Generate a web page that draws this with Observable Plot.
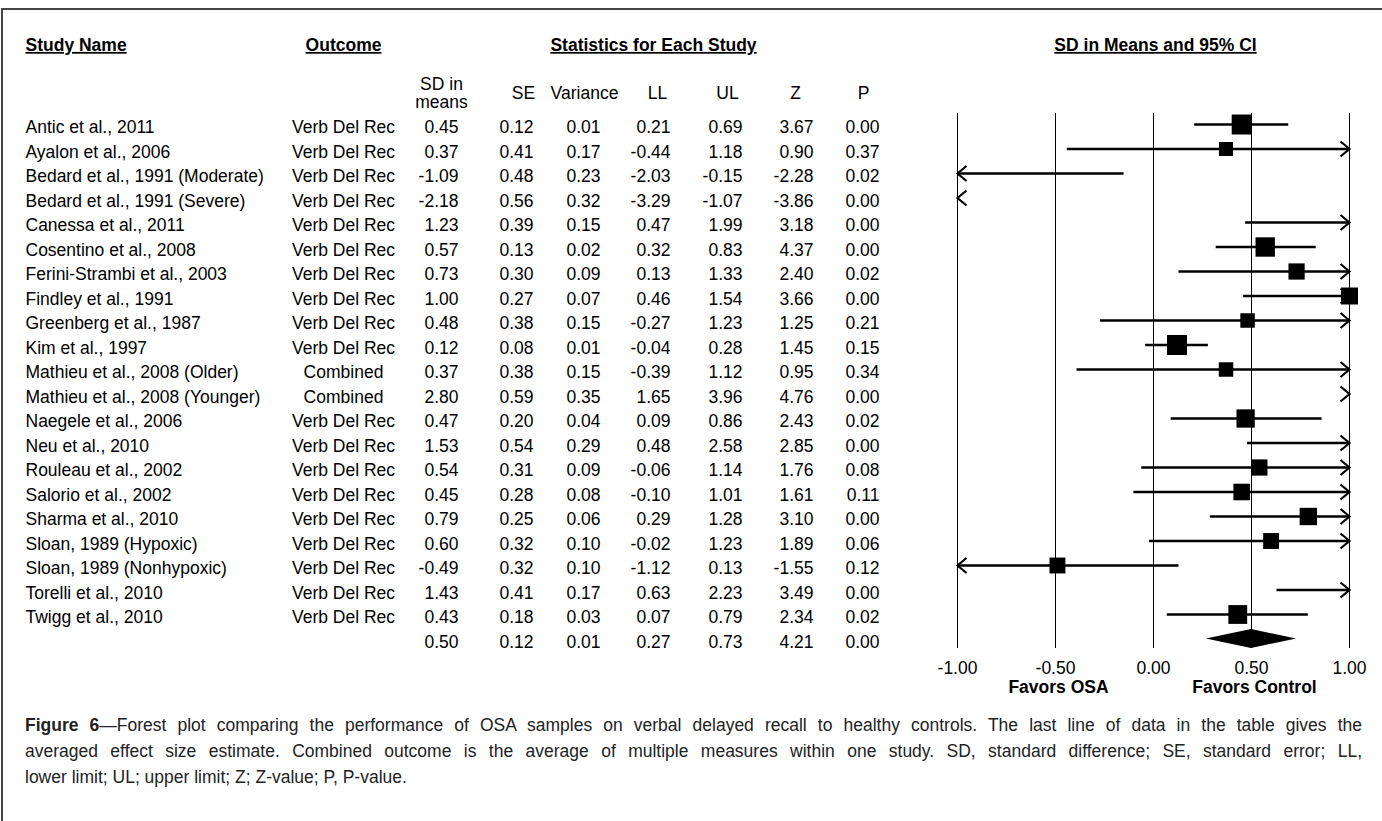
<!DOCTYPE html>
<html>
<head>
<meta charset="utf-8">
<script src="https://cdn.jsdelivr.net/npm/d3@7"></script>
<script src="https://cdn.jsdelivr.net/npm/@observablehq/plot@0.6"></script>
<style>
  html, body { margin: 0; padding: 0; background: #fff; overflow: hidden; }
  body { width: 1382px; height: 821px; position: relative; font-family: "Liberation Sans", Arial, sans-serif; }
  #frame { position: absolute; left: 1px; top: 8px; width: 2000px; height: 2000px; border-top: 2px solid #444; border-left: 2px solid #444; }
  #chart { position: absolute; left: 0; top: 0; }
  #caption { position: absolute; left: 25px; top: 712px; width: 1337px; font-size: 17.5px; line-height: 26px; color: #222; }
  #caption .j { text-align: justify; text-align-last: justify; }
</style>
</head>
<body>
<div id="frame"></div>
<div id="chart"></div>
<div id="caption">
  <div class="j"><b>Figure 6</b>—Forest plot comparing the performance of OSA samples on verbal delayed recall to healthy controls. The last line of data in the table gives the</div>
  <div class="j">averaged effect size estimate. Combined outcome is the average of multiple measures within one study. SD, standard difference; SE, standard error; LL,</div>
  <div>lower limit; UL; upper limit; Z; Z-value; P, P-value.</div>
</div>
<script>
// ---------- data ----------
const studies = [
  "Antic et al., 2011", "Ayalon et al., 2006", "Bedard et al., 1991 (Moderate)", "Bedard et al., 1991 (Severe)",
  "Canessa et al., 2011", "Cosentino et al., 2008", "Ferini-Strambi et al., 2003", "Findley et al., 1991",
  "Greenberg et al., 1987", "Kim et al., 1997", "Mathieu et al., 2008 (Older)", "Mathieu et al., 2008 (Younger)",
  "Naegele et al., 2006", "Neu et al., 2010", "Rouleau et al., 2002", "Salorio et al., 2002",
  "Sharma et al., 2010", "Sloan, 1989 (Hypoxic)", "Sloan, 1989 (Nonhypoxic)", "Torelli et al., 2010", "Twigg et al., 2010"
];
const outcomes = [
  "Verb Del Rec", "Verb Del Rec", "Verb Del Rec", "Verb Del Rec", "Verb Del Rec", "Verb Del Rec", "Verb Del Rec",
  "Verb Del Rec", "Verb Del Rec", "Verb Del Rec", "Combined", "Combined", "Verb Del Rec", "Verb Del Rec",
  "Verb Del Rec", "Verb Del Rec", "Verb Del Rec", "Verb Del Rec", "Verb Del Rec", "Verb Del Rec", "Verb Del Rec"
];
const sdInMeans = [0.45, 0.37, -1.09, -2.18, 1.23, 0.57, 0.73, 1.00, 0.48, 0.12, 0.37, 2.80, 0.47, 1.53, 0.54, 0.45, 0.79, 0.60, -0.49, 1.43, 0.43];
const stdErr    = [0.12, 0.41, 0.48, 0.56, 0.39, 0.13, 0.30, 0.27, 0.38, 0.08, 0.38, 0.59, 0.20, 0.54, 0.31, 0.28, 0.25, 0.32, 0.32, 0.41, 0.18];
const variance  = [0.01, 0.17, 0.23, 0.32, 0.15, 0.02, 0.09, 0.07, 0.15, 0.01, 0.15, 0.35, 0.04, 0.29, 0.09, 0.08, 0.06, 0.10, 0.10, 0.17, 0.03];
const lowerLim  = [0.21, -0.44, -2.03, -3.29, 0.47, 0.32, 0.13, 0.46, -0.27, -0.04, -0.39, 1.65, 0.09, 0.48, -0.06, -0.10, 0.29, -0.02, -1.12, 0.63, 0.07];
const upperLim  = [0.69, 1.18, -0.15, -1.07, 1.99, 0.83, 1.33, 1.54, 1.23, 0.28, 1.12, 3.96, 0.86, 2.58, 1.14, 1.01, 1.28, 1.23, 0.13, 2.23, 0.79];
const zValue    = [3.67, 0.90, -2.28, -3.86, 3.18, 4.37, 2.40, 3.66, 1.25, 1.45, 0.95, 4.76, 2.43, 2.85, 1.76, 1.61, 3.10, 1.89, -1.55, 3.49, 2.34];
const pValue    = [0.00, 0.37, 0.02, 0.00, 0.00, 0.00, 0.02, 0.00, 0.21, 0.15, 0.34, 0.00, 0.02, 0.00, 0.08, 0.11, 0.00, 0.06, 0.12, 0.00, 0.02];
// pooled (summary) line
const pooledSd = 0.50, pooledSe = 0.12, pooledVar = 0.01, pooledLL = 0.27, pooledUL = 0.73, pooledZ = 4.21, pooledP = 0.00;
const xTicks = [-1, -0.5, 0, 0.5, 1];
const favorLabels = ["Favors OSA", "Favors Control"];
const favorAt = [-0.5, 0.5];
const headers = ["Study Name", "Outcome", "Statistics for Each Study", "SD in Means and 95% CI"];
const colLabels = ["SD in means", "SE", "Variance", "LL", "UL", "Z", "P"];

// ---------- layout (pixels) ----------
const W = 1382, H = 705;
const FONT = "Liberation Sans, Arial, sans-serif";
const FS = 17.5;
const TOP = 113, BOTTOM = 648;
const colKeys = ["sd", "se", "variance", "ll", "ul", "z", "p"];
const colRight = [458, 533, 600, 670, 742, 813, 879];
const colHeadX = [441, 523, 584, 657, 727, 795, 863];
const rowTextDy = 3;

// ---------- tables ----------
const rows = studies.map((name, i) => ({
  i, name, outcome: outcomes[i], sd: sdInMeans[i], se: stdErr[i], variance: variance[i],
  ll: lowerLim[i], ul: upperLim[i], z: zValue[i], p: pValue[i]
}));
const pooledRow = {i: studies.length, name: "", outcome: "", sd: pooledSd, se: pooledSe, variance: pooledVar,
  ll: pooledLL, ul: pooledUL, z: pooledZ, p: pooledP};
const tableRows = [...rows, pooledRow];

const [xMin, xMax] = [xTicks[0], xTicks[xTicks.length - 1]];
const ciRows = rows.filter(d => d.ul > xMin && d.ll < xMax);
const leftArrows = rows.filter(d => d.ll < xMin);
const rightArrows = rows.filter(d => d.ul > xMax);
const squares = rows.filter(d => d.sd >= xMin && d.sd <= xMax);
const diamond = [
  {y: pooledRow.i - 0.39, x1: pooledSd, x2: pooledSd},
  {y: pooledRow.i, x1: pooledLL, x2: pooledUL},
  {y: pooledRow.i + 0.39, x1: pooledSd, x2: pooledSd}
];
// random-effects style weight -> square side in px
const side = v => 20 * Math.sqrt((0.01 + 0.144) / (v + 0.144));

const chevronRight = {draw(ctx) { ctx.moveTo(-9, -7.5); ctx.lineTo(0, 0); ctx.lineTo(-9, 7.5); }};
const chevronLeft  = {draw(ctx) { ctx.moveTo(9, -7.5); ctx.lineTo(0, 0); ctx.lineTo(9, 7.5); }};

// column header: first one is split over two lines
const headerLines = colLabels.flatMap((lab, k) => {
  if (k === 0) {
    const parts = lab.split(" ");
    return [{text: parts.slice(0, 2).join(" "), x: colHeadX[k], y: 77}, {text: parts.slice(2).join(" "), x: colHeadX[k], y: 95}];
  }
  return [{text: lab, x: colHeadX[k], y: 86}];
});

const marks = [
  // headers
  Plot.text([headers[0]], {text: d => d, frameAnchor: "top-left", dx: 25, dy: 38 - TOP, textAnchor: "start", fontWeight: "bold"}),
  Plot.text([headers[1]], {text: d => d, frameAnchor: "top-left", dx: 343, dy: 38 - TOP, textAnchor: "middle", fontWeight: "bold"}),
  Plot.text([headers[2]], {text: d => d, frameAnchor: "top-left", dx: 653, dy: 38 - TOP, textAnchor: "middle", fontWeight: "bold"}),
  Plot.text([headers[3]], {text: d => d, frameAnchor: "top-left", dx: 1155, dy: 38 - TOP, textAnchor: "middle", fontWeight: "bold"}),
  ...headerLines.map(h => Plot.text([h], {text: "text", frameAnchor: "top-left", dx: h.x, dy: h.y - TOP, textAnchor: "middle"})),
  // table body
  Plot.text(rows, {y: "i", text: "name", frameAnchor: "left", dx: 25, dy: rowTextDy, textAnchor: "start"}),
  Plot.text(rows, {y: "i", text: "outcome", frameAnchor: "left", dx: 343, dy: rowTextDy, textAnchor: "middle"}),
  ...colKeys.map((key, k) => Plot.text(tableRows, {y: "i", text: d => d[key].toFixed(2), frameAnchor: "left", dx: colRight[k], dy: rowTextDy, textAnchor: "end"})),
  // forest
  Plot.ruleX(xTicks, {stroke: "black", strokeWidth: 1}),
  Plot.ruleY(ciRows, {y: "i", x1: d => Math.max(d.ll, xMin), x2: d => Math.min(d.ul, xMax), stroke: "black", strokeWidth: 2.5}),
  Plot.dot(leftArrows, {x: () => xMin, y: "i", symbol: chevronLeft, stroke: "black", strokeWidth: 2.2, fill: "none"}),
  Plot.dot(rightArrows, {x: () => xMax, y: "i", symbol: chevronRight, stroke: "black", strokeWidth: 2.2, fill: "none"}),
  Plot.dot(squares, {x: "sd", y: "i", symbol: "square", fill: "black", stroke: null, r: d => side(d.variance) / Math.sqrt(Math.PI)}),
  Plot.areaX(diamond, {y: "y", x1: "x1", x2: "x2", fill: "black", curve: "linear"}),
  Plot.axisX({ticks: xTicks, tickFormat: d => d.toFixed(2), tickSize: 0, tickPadding: 13, fontSize: FS}),
  Plot.text(favorLabels, {x: (d, i) => favorAt[i], text: d => d, frameAnchor: "bottom", dy: 44, dx: 3, fontWeight: "bold", textAnchor: "middle"})
];

const chart = Plot.plot({
  width: W,
  height: H,
  marginTop: TOP,
  marginBottom: H - BOTTOM,
  marginLeft: 0,
  marginRight: 0,
  style: {fontFamily: FONT, fontSize: FS + "px", color: "#000", background: "transparent", overflow: "visible"},
  x: {type: "linear", domain: [xMin, xMax], range: [957, 1349]},
  y: {type: "linear", domain: [0, studies.length], range: [124, 638.5], axis: null},
  r: {type: "identity"},
  marks
});
d3.select(chart).selectAll("text")
  .filter(function () { return headers.includes(this.textContent); })
  .style("text-decoration", "underline");
document.getElementById("chart").appendChild(chart);
</script>
</body>
</html>
